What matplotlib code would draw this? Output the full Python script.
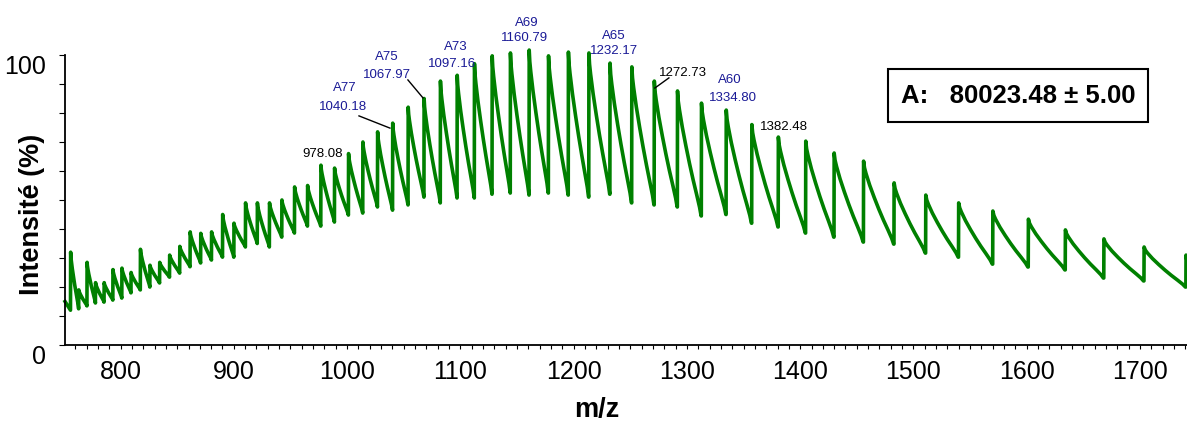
import matplotlib
matplotlib.use('Agg')
import matplotlib.pyplot as plt
from matplotlib.ticker import MultipleLocator, FixedLocator
from matplotlib.patches import Rectangle

plt.rcParams['font.family'] = ['Liberation Sans', 'DejaVu Sans']

# charge-state peak positions (m/z), z = 106 ... 46
peak_mz = [755.95, 763.14, 770.47, 777.94, 785.55, 793.32, 801.24, 809.33, 817.58, 825.99,
           834.59, 843.36, 852.32, 861.48, 870.83, 880.39, 890.16, 900.15, 910.37, 920.82,
           931.52, 942.46, 953.67, 965.15, 976.91, 988.96, 1001.30, 1013.96, 1026.95, 1040.28,
           1053.95, 1067.99, 1082.41, 1097.22, 1112.45, 1128.10, 1144.20, 1160.77, 1177.83, 1195.39,
           1213.49, 1232.14, 1251.38, 1271.22, 1291.71, 1312.87, 1334.73, 1357.34, 1380.73, 1404.93,
           1430.00, 1455.98, 1482.93, 1510.89, 1539.92, 1570.10, 1601.48, 1634.14, 1668.17, 1703.64,
           1740.65]
# intensity at the top of each peak (%)
peak_top = [32, 19, 28.5, 21.5, 21.5, 26, 26.5, 25, 33, 27.5,
            28.5, 31, 34, 39, 38.5, 39, 45, 42, 49, 49,
            49, 50, 54.5, 55, 62, 61, 66, 70, 73.5, 76.5,
            82, 85, 91, 93, 97, 99.7, 100.7, 101.7, 99.7, 101,
            100.7, 97.2, 95.9, 91, 87.6, 83.4, 81, 76, 71.7, 70.3,
            66.2, 63.4, 55.9, 51.7, 49, 46.2, 43.4, 39.7, 36.6, 33.8,
            31]
# intensity of the valley just before each peak rises (%)
peak_valley = [12, 12.5, 13.5, 14.5, 14.8, 15.5, 16.2, 18, 19, 20,
               21.4, 23.4, 24.8, 27, 28.3, 29.3, 30.3, 30.3, 33.8, 35,
               33.8, 37.2, 38.6, 41, 41, 42.4, 44.8, 45.5, 47.6, 46.5,
               48.3, 51, 49, 50.7, 50.7, 52, 52.4, 51.7, 52.4, 51.7,
               51, 52, 49, 48.3, 47.6, 44.5, 45, 42, 40.7, 38.6,
               37.2, 35.5, 34.8, 31.7, 30.3, 27.9, 26.9, 25.9, 23.1, 22.1,
               20]
start_mz, start_int = 751.0, 15.0
# tail shape of a peak: fraction of the way to the next peak, fraction of height left
tail_t = [0.03, 0.08, 0.2, 0.35, 0.5, 0.65, 0.8, 0.92, 0.985]
tail_f = [0.92, 0.85, 0.71, 0.56, 0.42, 0.29, 0.17, 0.07, 0.0]

# annotations
blue_names = ['A77', 'A75', 'A73', 'A69', 'A65', 'A60']
blue_values = ['1040.18', '1067.97', '1097.16', '1160.79', '1232.17', '1334.80']
blue_name_xy = [(998.1, 88.6), (1035.2, 99.3), (1096.1, 102.8), (1158.8, 111.0), (1235.6, 106.6), (1337.9, 91.4)]
blue_value_xy = [(996.4, 82.1), (1035.2, 93.1), (1092.6, 96.9), (1157.0, 105.9), (1235.6, 101.4), (1340.6, 85.2)]
black_values = ['978.08', '1272.73', '1382.48']
black_xy = [(978.7, 65.9), (1296.5, 93.8), (1385.6, 75.2)]
leaders = [((1010.5, 79.0), (1037.8, 74.8)), ((1053.7, 91.4), (1067.0, 85.2)), ((1284.1, 92.1), (1271.7, 88.6))]

xs, ys = [start_mz], [start_int]
n = len(peak_mz)
for i in range(n):
    xs += [peak_mz[i] - 0.15, peak_mz[i]]
    ys += [peak_valley[i], peak_top[i]]
    if i < n - 1:
        gap = peak_mz[i + 1] - peak_mz[i]
        for t, f in zip(tail_t, tail_f):
            xs.append(peak_mz[i] + t * gap)
            ys.append(peak_valley[i + 1] + f * (peak_top[i] - peak_valley[i + 1]))
    else:
        xs.append(peak_mz[i] + 0.6)
        ys.append(peak_top[i] - 1.5)

fig = plt.figure(figsize=(11.87, 4.26), dpi=100)
ax = fig.add_axes([0.0548, 0.1901, 0.9452, 0.6808])
ax.plot(xs, ys, color='#008000', lw=2.6, clip_on=False)

ax.set_xlim(751, 1741.5)
ax.set_ylim(0, 100)
for s in ['top', 'right']:
    ax.spines[s].set_visible(False)
for s in ['left', 'bottom']:
    ax.spines[s].set_linewidth(1.3)

ax.xaxis.set_major_locator(MultipleLocator(100))
ax.xaxis.set_minor_locator(MultipleLocator(10))
ax.yaxis.set_major_locator(FixedLocator([0, 100]))
ax.yaxis.set_minor_locator(MultipleLocator(10))
ax.tick_params(axis='x', which='both', direction='out', length=3, width=0.8, labelsize=18, pad=8)
ax.tick_params(axis='y', which='both', direction='out', length=4, width=0.8, labelsize=18, pad=10)
ax.set_yticklabels(['0', '100'])
for lab in ax.get_yticklabels():
    lab.set_verticalalignment('top')

ax.set_ylabel('Intensité (%)', fontsize=19.5, fontweight='bold', va='center')
ax.yaxis.set_label_coords(-0.0294, 0.45)
ax.set_xlabel('m/z', fontsize=19.5, fontweight='bold', va='center')
ax.xaxis.set_label_coords(0.474, -0.224)

for name, val, nxy, vxy in zip(blue_names, blue_values, blue_name_xy, blue_value_xy):
    ax.text(*nxy, name, color='#1a1a96', fontsize=9.5, ha='center', va='center', clip_on=False)
    ax.text(*vxy, val, color='#1a1a96', fontsize=9.5, ha='center', va='center', clip_on=False)
for val, xy in zip(black_values, black_xy):
    ax.text(*xy, val, color='black', fontsize=9.5, ha='center', va='center', clip_on=False)
for p0, p1 in leaders:
    ax.plot([p0[0], p1[0]], [p0[1], p1[1]], color='black', lw=1, clip_on=False)

fig.patches.append(Rectangle((0.7481, 0.7136), 0.2190, 0.1244, transform=fig.transFigure,
                             fill=False, edgecolor='black', lw=1.5))
fig.text(0.8576, 0.7758, 'A:   80023.48 ± 5.00', fontsize=18.5, fontweight='bold',
         ha='center', va='center')

fig.savefig('out.png', dpi=100)
